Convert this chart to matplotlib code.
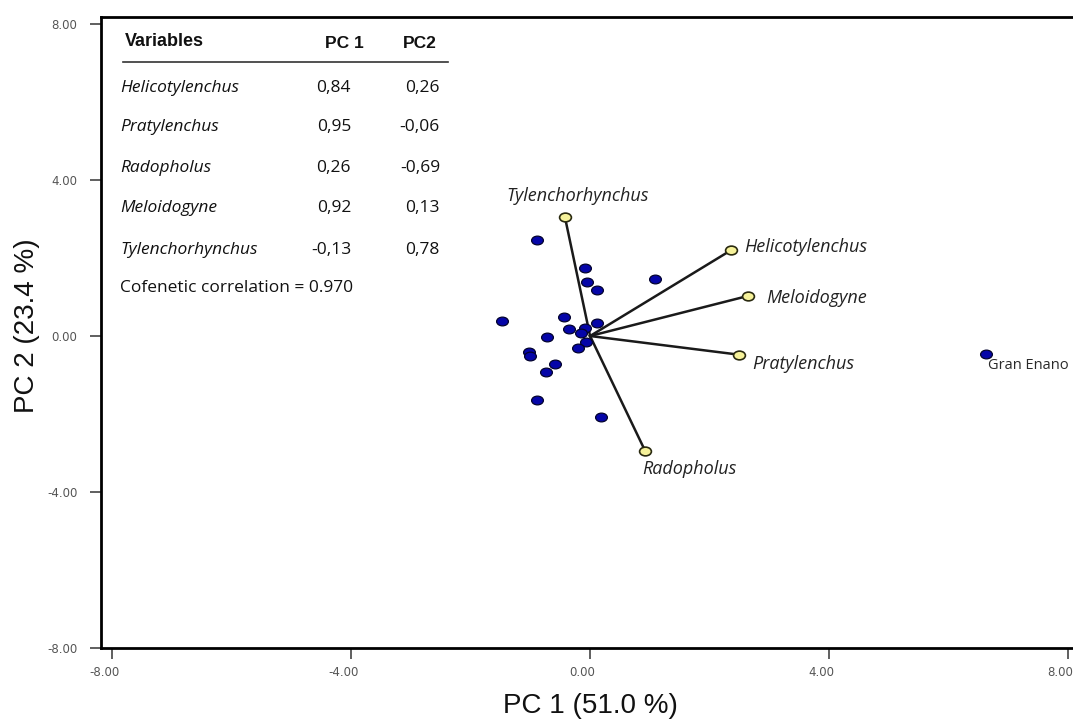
import matplotlib.pyplot as plt
from matplotlib.path import Path
from matplotlib.transforms import Affine2D, ScaledTranslation

# PCA scores of the cultivars (blue dots)
score_pc1 = [-0.89, -0.08, -0.05, 0.11, 1.08, -1.47, -0.44, -0.35, 0.11, -0.08,
             -0.15, -0.72, -0.07, -0.20, -1.02, -1.00, -0.59, -0.74, -0.89, 0.18, 6.63]
score_pc2 = [2.46, 1.74, 1.38, 1.18, 1.46, 0.39, 0.48, 0.18, 0.33, 0.20,
             0.07, -0.02, -0.15, -0.31, -0.42, -0.50, -0.72, -0.93, -1.64, -2.08, -0.46]
outlier_name = "Gran Enano"

# nematode variable vectors (biplot scale)
variables = ["Helicotylenchus", "Pratylenchus", "Radopholus", "Meloidogyne", "Tylenchorhynchus"]
vec_pc1 = [2.36, 2.50, 0.92, 2.65, -0.42]
vec_pc2 = [2.20, -0.48, -2.94, 1.03, 3.04]

# loadings table
load_pc1 = ["0,84", "0,95", "0,26", "0,92", "-0,13"]
load_pc2 = ["0,26", "-0,06", "-0,69", "0,13", "0,78"]
cofenetic = "0.970"

ticks = [-8, -4, 0, 4, 8]

W, H = 1073, 724
fig = plt.figure(figsize=(W / 100, H / 100), dpi=100)
ax = fig.add_axes([101 / W, 1 - 648 / H, (1072 - 101) / W, (648 - 17) / H])
ax.set_xlim(-8.19, 8.07)
ax.set_ylim(-7.96, 8.18)

ellipse = Path(Affine2D().scale(1.35, 1.0).transform(Path.unit_circle().vertices),
               Path.unit_circle().codes)

ax.plot(score_pc1, score_pc2, ls="none", marker=ellipse, ms=8.5,
        mfc="#0505a8", mec="#03032e", mew=0.9, zorder=3)
ax.text(score_pc1[-1] + 0.04, score_pc2[-1] - 0.3, outlier_name,
        fontsize=10.5, color="#2a2a2a", family="Open Sans", va="center")

for name, vx, vy in zip(variables, vec_pc1, vec_pc2):
    ax.plot([0, vx], [0, vy], color="#1a1a1a", lw=1.8, zorder=2)
    ax.plot(vx, vy, ls="none", marker=ellipse, ms=8.5,
            mfc="#f6f29a", mec="#2a2a10", mew=1.2, zorder=4)

# vector labels
label_pos = {
    "Tylenchorhynchus": (-1.41, 3.58),
    "Helicotylenchus": (2.58, 2.28),
    "Meloidogyne": (2.95, 0.97),
    "Pratylenchus": (2.71, -0.72),
    "Radopholus": (0.87, -3.42),
}
for name in variables:
    lx, ly = label_pos[name]
    ax.text(lx, ly, name, fontsize=13, style="italic", color="#222222",
            family="Open Sans", va="center", ha="left")

ax.set_xticks(ticks)
ax.set_yticks(ticks)
ax.set_xticklabels([f"{v:.2f}" for v in ticks])
ax.set_yticklabels([f"{v:.2f}" for v in ticks])
ax.tick_params(axis="both", direction="out", length=8, width=1.2, color="#444444",
               labelsize=8.5, labelcolor="#555555")
ax.tick_params(axis="y", pad=9)
ax.tick_params(axis="x", pad=5)
shift = ScaledTranslation(-8 / 100, 0, fig.dpi_scale_trans)
for lab in ax.get_xticklabels():
    lab.set_transform(lab.get_transform() + shift)

for side in ["left", "top", "bottom"]:
    ax.spines[side].set_linewidth(2)
    ax.spines[side].set_color("black")
ax.spines["right"].set_visible(False)

fig.text(590 / W, 1 - 706 / H, "PC 1 (51.0 %)", fontsize=20, ha="center", va="center",
         family="Liberation Sans", color="#111111")
fig.text(27 / W, 1 - 326 / H, "PC 2 (23.4 %)", fontsize=20, ha="center", va="center",
         rotation=90, family="Liberation Sans", color="#111111")

# loadings table in the upper-left corner
def fx(px):
    return px / W


def fy(py):
    return 1 - py / H


fig.text(fx(125), fy(42), "Variables", fontsize=13, weight="bold",
         family="Liberation Sans", va="center", color="#111111")
fig.text(fx(364), fy(44), "PC 1", fontsize=12.5, weight="bold",
         family="Liberation Sans", va="center", ha="right", color="#111111")
fig.text(fx(437), fy(44), "PC2", fontsize=12.5, weight="bold",
         family="Liberation Sans", va="center", ha="right", color="#111111")
fig.add_artist(plt.Line2D([fx(123), fx(448)], [fy(62), fy(62)], color="#333333", lw=1.2))

row_y = [88, 127, 168, 208, 250]
for name, a, b, py in zip(variables, load_pc1, load_pc2, row_y):
    fig.text(fx(120), fy(py), name, fontsize=12.5, style="italic",
             family="Open Sans", va="center", color="#111111")
    fig.text(fx(351), fy(py), a, fontsize=12.5, family="Open Sans",
             va="center", ha="right", color="#111111")
    fig.text(fx(440), fy(py), b, fontsize=12.5, family="Open Sans",
             va="center", ha="right", color="#111111")
fig.text(fx(120), fy(288), f"Cofenetic correlation = {cofenetic}", fontsize=12.5,
         family="Open Sans", va="center", color="#111111")

fig.savefig("out.png", dpi=100)
